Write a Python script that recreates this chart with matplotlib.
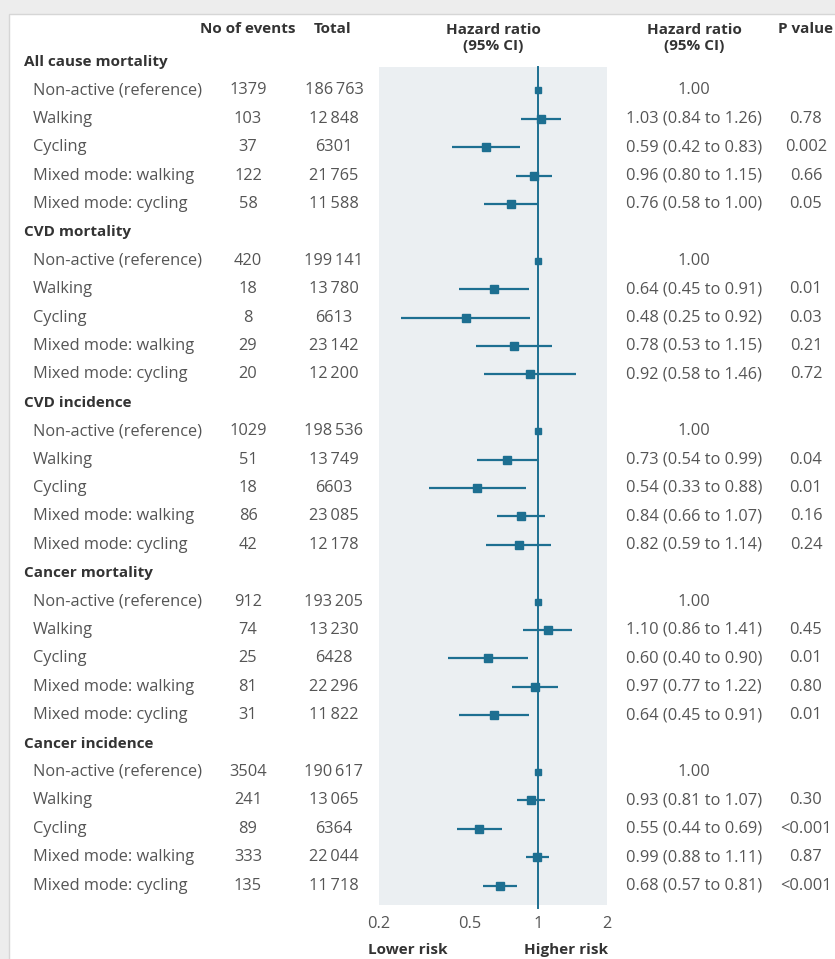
import matplotlib.pyplot as plt
import matplotlib.transforms as mtransforms
from matplotlib.patches import Rectangle

# forest plot of hazard ratios by commuting mode
groups = ['All cause mortality', 'CVD mortality', 'CVD incidence',
          'Cancer mortality', 'Cancer incidence']
modes = ['Non-active (reference)', 'Walking', 'Cycling',
         'Mixed mode: walking', 'Mixed mode: cycling']

events = [[1379, 103, 37, 122, 58],
          [420, 18, 8, 29, 20],
          [1029, 51, 18, 86, 42],
          [912, 74, 25, 81, 31],
          [3504, 241, 89, 333, 135]]
totals = [[186763, 12848, 6301, 21765, 11588],
          [199141, 13780, 6613, 23142, 12200],
          [198536, 13749, 6603, 23085, 12178],
          [193205, 13230, 6428, 22296, 11822],
          [190617, 13065, 6364, 22044, 11718]]
hr = [[1.00, 1.03, 0.59, 0.96, 0.76],
      [1.00, 0.64, 0.48, 0.78, 0.92],
      [1.00, 0.73, 0.54, 0.84, 0.82],
      [1.00, 1.10, 0.60, 0.97, 0.64],
      [1.00, 0.93, 0.55, 0.99, 0.68]]
ci_low = [[None, 0.84, 0.42, 0.80, 0.58],
          [None, 0.45, 0.25, 0.53, 0.58],
          [None, 0.54, 0.33, 0.66, 0.59],
          [None, 0.86, 0.40, 0.77, 0.45],
          [None, 0.81, 0.44, 0.88, 0.57]]
ci_high = [[None, 1.26, 0.83, 1.15, 1.00],
           [None, 0.91, 0.92, 1.15, 1.46],
           [None, 0.99, 0.88, 1.07, 1.14],
           [None, 1.41, 0.90, 1.22, 0.91],
           [None, 1.07, 0.69, 1.11, 0.81]]
pvals = [['', '0.78', '0.002', '0.66', '0.05'],
         ['', '0.01', '0.03', '0.21', '0.72'],
         ['', '0.04', '0.01', '0.16', '0.24'],
         ['', '0.45', '0.01', '0.80', '0.01'],
         ['', '0.30', '<0.001', '0.87', '<0.001']]

xticks = [0.2, 0.5, 1, 2]
xtick_labels = ['0.2', '0.5', '1', '2']

plt.rcParams['font.family'] = ['Open Sans', 'DejaVu Sans']
W, H = 835, 959
blue = '#1d6f91'
txt = '#555555'
head = '#333333'
fs = 11.8
fb = 11.0

fig = plt.figure(figsize=(W / 100, H / 100), dpi=100, facecolor='#ededed')
# white card behind everything
fig.patches.append(Rectangle((9 / W, -0.01), 1, 1.01 - 14 / H, transform=fig.transFigure,
                             facecolor='white', edgecolor='#d6d6d6', lw=1.0, zorder=-5))

def fx(px):
    return px / W

def fy(py):
    return 1 - py / H

top, bottom = 67, 905
row0, step = 62, 28.4
ax = fig.add_axes([fx(379), fy(bottom), 228 / W, (bottom - top) / H])
ax.set_facecolor('#ebeff2')
ax.set_xscale('log')
ax.set_xlim(0.2, 2)
ax.set_ylim((bottom - row0) / step, (top - row0) / step)
for s in ax.spines.values():
    s.set_visible(False)
ax.set_yticks([])
ax.set_xticks(xticks)
ax.set_xticklabels(xtick_labels)
ax.xaxis.set_minor_locator(plt.NullLocator())
ax.tick_params(axis='x', length=0, pad=8, labelsize=fs, labelcolor=txt)

ax.axvline(1, ymin=-3 / (bottom - top), ymax=1, color=blue, lw=1.4, clip_on=False, zorder=2)

trans = mtransforms.blended_transform_factory(fig.transFigure, ax.transData)

def fmt(n):
    return f'{n:,}'.replace(',', '\u2009') if n >= 10000 else str(n)

r = 0
for g in range(len(groups)):
    fig.text(fx(24), r, groups[g], transform=trans, va='center', ha='left',
             fontsize=fb, fontweight='bold', color=head)
    r += 1
    for m in range(len(modes)):
        fig.text(fx(33), r, modes[m], transform=trans, va='center', ha='left', fontsize=fs, color=txt)
        fig.text(fx(248), r, str(events[g][m]), transform=trans, va='center', ha='center',
                 fontsize=fs, color=txt)
        fig.text(fx(334), r, fmt(totals[g][m]), transform=trans, va='center', ha='center',
                 fontsize=fs, color=txt)
        if ci_low[g][m] is None:
            label = f'{hr[g][m]:.2f}'
            ax.plot(hr[g][m], r, 's', color=blue, ms=5, zorder=3)
        else:
            label = f'{hr[g][m]:.2f} ({ci_low[g][m]:.2f} to {ci_high[g][m]:.2f})'
            ax.plot([ci_low[g][m], ci_high[g][m]], [r, r], color=blue, lw=1.6,
                    solid_capstyle='butt', zorder=3)
            ax.plot(hr[g][m], r, 's', color=blue, ms=6, zorder=4)
        fig.text(fx(694), r, label, transform=trans, va='center', ha='center', fontsize=fs, color=txt)
        fig.text(fx(806), r, pvals[g][m], transform=trans, va='center', ha='center',
                 fontsize=fs, color=txt)
        r += 1

# column headings
fig.text(fx(248), fy(29), 'No of events', ha='center', va='center', fontsize=fb,
         fontweight='bold', color=head)
fig.text(fx(333), fy(29), 'Total', ha='center', va='center', fontsize=fb,
         fontweight='bold', color=head)
fig.text(fx(493), fy(38), 'Hazard ratio\n(95% CI)', ha='center', va='center', fontsize=fb,
         fontweight='bold', color=head, linespacing=1.25)
fig.text(fx(694), fy(38), 'Hazard ratio\n(95% CI)', ha='center', va='center', fontsize=fb,
         fontweight='bold', color=head, linespacing=1.25)
fig.text(fx(806), fy(29), 'P value', ha='center', va='center', fontsize=fb,
         fontweight='bold', color=head)

fig.text(fx(408), fy(950), 'Lower risk', ha='center', va='center', fontsize=fb,
         fontweight='bold', color=head)
fig.text(fx(566), fy(950), 'Higher risk', ha='center', va='center', fontsize=fb,
         fontweight='bold', color=head)

fig.savefig('out.png', dpi=100, facecolor=fig.get_facecolor())
